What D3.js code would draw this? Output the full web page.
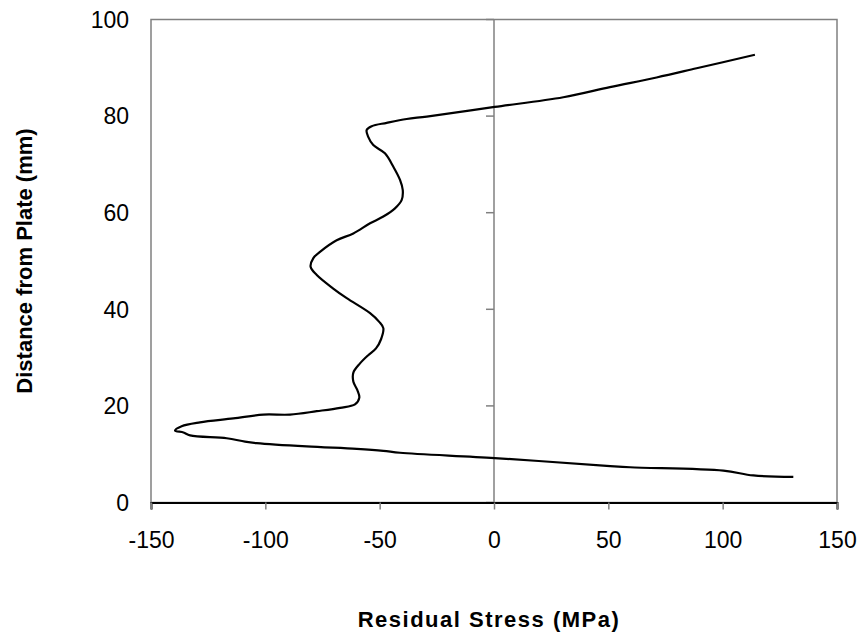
<!DOCTYPE html>
<html>
<head>
<meta charset="utf-8">
<script src="https://cdn.jsdelivr.net/npm/d3@7"></script>
<style>
  html, body { margin: 0; padding: 0; background: #fff; }
  svg { display: block; }
  text { font-family: "Liberation Sans", Arial, sans-serif; fill: #000; }
</style>
</head>
<body>
<svg id="chart" width="863" height="640"></svg>
<script>
// Data: residual stress (MPa) vs distance from plate (mm), in drawing order
const stress = [130.9, 113.4, 100.3, 59.5, 49.3, 0.3, -41.1, -48.4, -60.0, -81.9,
  -103.8, -108.9, -116.9, -132.9, -135.8, -139.5, -136.6, -128.6, -114.0, -100.9,
  -89.2, -77.5, -67.3, -60.8, -58.9, -59.8, -61.5, -61.5, -58.6, -55.0,
  -51.6, -49.4, -48.4, -50.2, -54.2, -64.4, -70.3, -77.5, -80.2, -79.0,
  -76.1, -68.8, -61.5, -54.2, -48.4, -43.3, -40.4, -39.9, -41.1, -44.0,
  -47.7, -52.8, -55.0, -55.7, -53.5, -46.9, -38.2, -29.4, 0.3, 30.3,
  50.7, 71.1, 88.6, 114.1];
const distance = [5.3, 5.6, 6.6, 7.3, 7.6, 9.2, 10.3, 10.7, 11.1, 11.6,
  12.3, 12.6, 13.3, 13.9, 14.5, 14.9, 15.8, 16.6, 17.4, 18.2,
  18.2, 18.9, 19.6, 20.3, 21.7, 23.3, 25.0, 26.9, 28.8, 30.5,
  31.9, 33.8, 36.1, 37.4, 39.2, 42.3, 44.3, 47.1, 48.8, 50.6,
  51.9, 54.3, 55.7, 57.8, 59.2, 60.9, 62.6, 64.7, 66.8, 69.5,
  72.3, 74.0, 75.7, 77.1, 77.9, 78.6, 79.4, 79.9, 81.9, 83.9,
  86.0, 88.0, 89.9, 92.7];
const xTicks = [-150, -100, -50, 0, 50, 100, 150];
const yTicks = [0, 20, 40, 60, 80, 100];
const xTitle = "Residual Stress (MPa)";
const yTitle = "Distance from Plate (mm)";

const svg = d3.select("#chart");
const L = 151, R = 837, T = 19.5, B = 502.5;

const x = d3.scaleLinear().domain([-150, 150]).range([L, R]);
const y = d3.scaleLinear().domain([0, 100]).range([B, T]);

const grey = "#808080";

// plot area border
svg.append("rect")
  .attr("x", L).attr("y", T).attr("width", R - L).attr("height", B - T)
  .attr("fill", "none").attr("stroke", grey).attr("stroke-width", 1.5);

// vertical axis at x = 0 with ticks pointing left
svg.append("line")
  .attr("x1", x(0)).attr("x2", x(0)).attr("y1", T).attr("y2", B)
  .attr("stroke", grey).attr("stroke-width", 1.5);
svg.selectAll(".ytick").data(yTicks).enter().append("line")
  .attr("x1", x(0) - 8).attr("x2", x(0))
  .attr("y1", d => y(d)).attr("y2", d => y(d))
  .attr("stroke", grey).attr("stroke-width", 1.5);

// y tick labels at the left
svg.selectAll(".ylab").data(yTicks).enter().append("text")
  .attr("x", 129).attr("y", d => y(d))
  .attr("dy", "0.36em")
  .attr("text-anchor", "end")
  .style("font-size", "23px")
  .text(d => d);

// x axis (bottom)
const xAxis = d3.axisBottom(x).tickValues(xTicks).tickSize(7).tickPadding(22)
  .tickFormat(d3.format("d"));
const gx = svg.append("g").attr("transform", `translate(0,${B})`).call(xAxis);
gx.select(".domain").attr("stroke", "#000").attr("stroke-width", 2);
gx.selectAll(".tick line").attr("stroke", grey).attr("stroke-width", 1.5);
gx.selectAll(".tick text")
  .style("font-size", "23px")
  .style("font-family", "'Liberation Sans', Arial, sans-serif")
  .attr("fill", "#000")
  .text(d => d < 0 ? "-" + Math.abs(d) : d);

// data line
const pts = stress.map((s, i) => [s, distance[i]]);
svg.append("path")
  .datum(pts)
  .attr("fill", "none")
  .attr("stroke", "#000")
  .attr("stroke-width", 2.2)
  .attr("stroke-linejoin", "round")
  .attr("d", d3.line().x(d => x(d[0])).y(d => y(d[1])).curve(d3.curveCatmullRom.alpha(0.5)));

// titles
svg.append("text")
  .attr("x", (L + R) / 2 - 5).attr("y", 627)
  .attr("text-anchor", "middle")
  .style("font-size", "22px").style("font-weight", "bold")
  .style("letter-spacing", "1.5px")
  .text(xTitle);

svg.append("text")
  .attr("transform", `translate(32,${(T + B) / 2}) rotate(-90)`)
  .attr("text-anchor", "middle")
  .style("font-size", "22px").style("font-weight", "bold")
  .text(yTitle);
</script>
</body>
</html>
